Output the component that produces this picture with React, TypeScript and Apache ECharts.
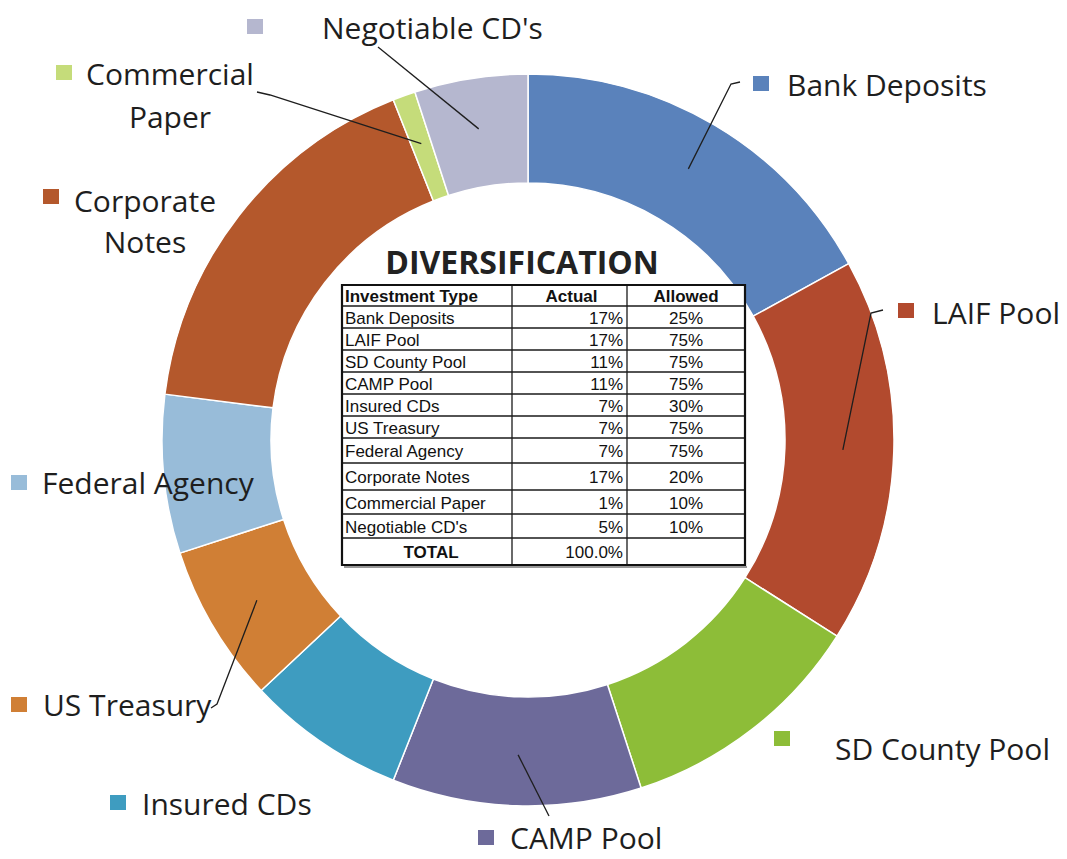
import React, { useEffect, useRef } from 'react';
import * as echarts from 'echarts';

// ---- data ----
const categories = [
  'Bank Deposits',
  'LAIF Pool',
  'SD County Pool',
  'CAMP Pool',
  'Insured CDs',
  'US Treasury',
  'Federal Agency',
  'Corporate Notes',
  'Commercial Paper',
  "Negotiable CD's",
];
const actualPct = [17, 17, 11, 11, 7, 7, 7, 17, 1, 5];
const allowedPct = [25, 75, 75, 75, 30, 75, 75, 20, 10, 10];
const totalText = '100.0%';
const sliceColors = [
  '#5a82bb',
  '#b24a2e',
  '#8dbd38',
  '#6d6a9a',
  '#3e9cc0',
  '#d07f35',
  '#98bcd9',
  '#b4582c',
  '#c5dc7a',
  '#b5b7cf',
];

// ---- layout ----
const CX = 528;
const CY = 440;
const R_IN = 257;
const R_OUT = 366;
const LEADER_R = 315;

type LabelPos = {
  lines: string[];
  tx: number;
  ty: number[];
  align: 'left' | 'center';
  marker: [number, number];
  leader?: [number, number][];
};

const labelPos: LabelPos[] = [
  { lines: ['Bank Deposits'], tx: 787, ty: [84], align: 'left', marker: [753, 76], leader: [[731, 84], [740, 82]] },
  { lines: ['LAIF Pool'], tx: 932, ty: [312], align: 'left', marker: [898, 303], leader: [[871, 313], [883, 310]] },
  { lines: ['SD County Pool'], tx: 835, ty: [748], align: 'left', marker: [774, 731] },
  { lines: ['CAMP Pool'], tx: 510, ty: [837], align: 'left', marker: [478, 830], leader: [[549, 816]] },
  { lines: ['Insured CDs'], tx: 142, ty: [803], align: 'left', marker: [110, 795] },
  { lines: ['US Treasury'], tx: 43, ty: [704], align: 'left', marker: [11, 697], leader: [[217, 704], [211, 708]] },
  { lines: ['Federal Agency'], tx: 42, ty: [482], align: 'left', marker: [11, 475] },
  { lines: ['Corporate', 'Notes'], tx: 145, ty: [200, 241], align: 'center', marker: [43, 189] },
  { lines: ['Commercial', 'Paper'], tx: 170, ty: [73, 116], align: 'center', marker: [56, 65], leader: [[270, 95], [257, 92]] },
  { lines: ["Negotiable CD's"], tx: 322, ty: [27], align: 'left', marker: [247, 19], leader: [[378, 47]] },
];

// table geometry
const tableCols = [342, 512, 627, 745];
const tableRows = [285, 306, 328, 350, 372, 394, 416, 438, 463, 490, 514, 538, 565];
const tableHeaders = ['Investment Type', 'Actual', 'Allowed'];

function anchorPoint(i: number, r: number): [number, number] {
  const total = actualPct.reduce((a, b) => a + b, 0);
  let before = 0;
  for (let k = 0; k < i; k++) before += actualPct[k];
  const mid = ((before + actualPct[i] / 2) / total) * Math.PI * 2;
  return [CX + r * Math.sin(mid), CY - r * Math.cos(mid)];
}

function buildGraphics() {
  const els: any[] = [];
  const labelFont = '"Open Sans", "Noto Sans", sans-serif';
  labelPos.forEach((lp, i) => {
    els.push({
      type: 'rect',
      shape: { x: lp.marker[0], y: lp.marker[1], width: 16, height: 15 },
      style: { fill: sliceColors[i] },
      z: 10,
    });
    lp.lines.forEach((t, j) => {
      els.push({
        type: 'text',
        x: lp.tx,
        y: lp.ty[j],
        style: {
          text: t,
          fill: '#1e1e1e',
          fontSize: 30,
          fontFamily: labelFont,
          align: lp.align,
          verticalAlign: 'middle',
        },
        z: 10,
      });
    });
    if (lp.leader) {
      const pts = [anchorPoint(i, LEADER_R), ...lp.leader];
      els.push({
        type: 'polyline',
        shape: { points: pts },
        style: { stroke: '#1e1e1e', lineWidth: 1.3, fill: null },
        z: 9,
      });
    }
  });

  // title
  els.push({
    type: 'text',
    x: 522,
    y: 261,
    style: {
      text: 'DIVERSIFICATION',
      fill: '#222',
      fontSize: 32,
      fontWeight: 'bold',
      fontFamily: '"Open Sans", sans-serif',
      align: 'center',
      verticalAlign: 'middle',
    },
    z: 10,
  });

  const tFont = '"Liberation Sans", Arial, sans-serif';
  const left = tableCols[0];
  const right = tableCols[tableCols.length - 1];
  const top = tableRows[0];
  const bottom = tableRows[tableRows.length - 1];

  // background
  els.push({
    type: 'rect',
    shape: { x: left, y: top, width: right - left, height: bottom - top },
    style: { fill: '#fff' },
    z: 10,
  });
  // horizontal inner lines
  for (let k = 1; k < tableRows.length - 1; k++) {
    els.push({
      type: 'line',
      shape: { x1: left, y1: tableRows[k], x2: right, y2: tableRows[k] },
      style: { stroke: '#1a1a1a', lineWidth: 1.3 },
      z: 11,
    });
  }
  // vertical inner lines
  for (let k = 1; k < tableCols.length - 1; k++) {
    els.push({
      type: 'line',
      shape: { x1: tableCols[k], y1: top, x2: tableCols[k], y2: bottom },
      style: { stroke: '#1a1a1a', lineWidth: 1.3 },
      z: 11,
    });
  }
  // shadow + outer border
  els.push({
    type: 'line',
    shape: { x1: left + 2, y1: bottom + 2, x2: right + 2, y2: bottom + 2 },
    style: { stroke: '#777', lineWidth: 1.5 },
    z: 11,
  });
  els.push({
    type: 'rect',
    shape: { x: left, y: top, width: right - left, height: bottom - top },
    style: { fill: null, stroke: '#111', lineWidth: 2.2 },
    z: 12,
  });

  const rowMid = (k: number) => (tableRows[k] + tableRows[k + 1]) / 2 + 1;
  const col1X = left + 3;
  const actualX = tableCols[2] - 4;
  const allowedX = (tableCols[2] + tableCols[3]) / 2;
  const txt = (text: string, x: number, y: number, align: string, bold = false) => ({
    type: 'text',
    x,
    y,
    style: {
      text,
      fill: '#111',
      fontSize: 17,
      fontWeight: bold ? 'bold' : 'normal',
      fontFamily: tFont,
      align,
      verticalAlign: 'middle',
    },
    z: 13,
  });
  // header
  els.push(txt(tableHeaders[0], col1X, rowMid(0), 'left', true));
  els.push(txt(tableHeaders[1], (tableCols[1] + tableCols[2]) / 2 + 2, rowMid(0), 'center', true));
  els.push(txt(tableHeaders[2], allowedX, rowMid(0), 'center', true));
  categories.forEach((c, i) => {
    els.push(txt(c, col1X, rowMid(i + 1), 'left'));
    els.push(txt(actualPct[i] + '%', actualX, rowMid(i + 1), 'right'));
    els.push(txt(allowedPct[i] + '%', allowedX, rowMid(i + 1), 'center'));
  });
  const last = tableRows.length - 2;
  els.push(txt('TOTAL', (tableCols[0] + tableCols[1]) / 2 + 4, rowMid(last), 'center', true));
  els.push(txt(totalText, actualX, rowMid(last), 'right'));

  return els;
}

export default function App() {
  const ref = useRef<HTMLDivElement>(null);
  useEffect(() => {
    if (!ref.current) return;
    const chart = echarts.init(ref.current, undefined, { renderer: 'svg' });
    chart.setOption({
      animation: false,
      backgroundColor: '#ffffff',
      series: [
        {
          type: 'pie',
          center: [CX, CY],
          radius: [R_IN, R_OUT],
          startAngle: 90,
          clockwise: true,
          silent: true,
          label: { show: false },
          labelLine: { show: false },
          emphasis: { disabled: true },
          itemStyle: { borderColor: '#ffffff', borderWidth: 1.5 },
          data: categories.map((name, i) => ({
            name,
            value: actualPct[i],
            itemStyle: { color: sliceColors[i] },
          })),
        },
      ],
      graphic: { elements: buildGraphics() },
    });
    return () => chart.dispose();
  }, []);
  return (
    <div
      ref={ref}
      style={{ position: 'absolute', left: 0, top: 0, width: 1067, height: 859, background: '#fff' }}
    />
  );
}
